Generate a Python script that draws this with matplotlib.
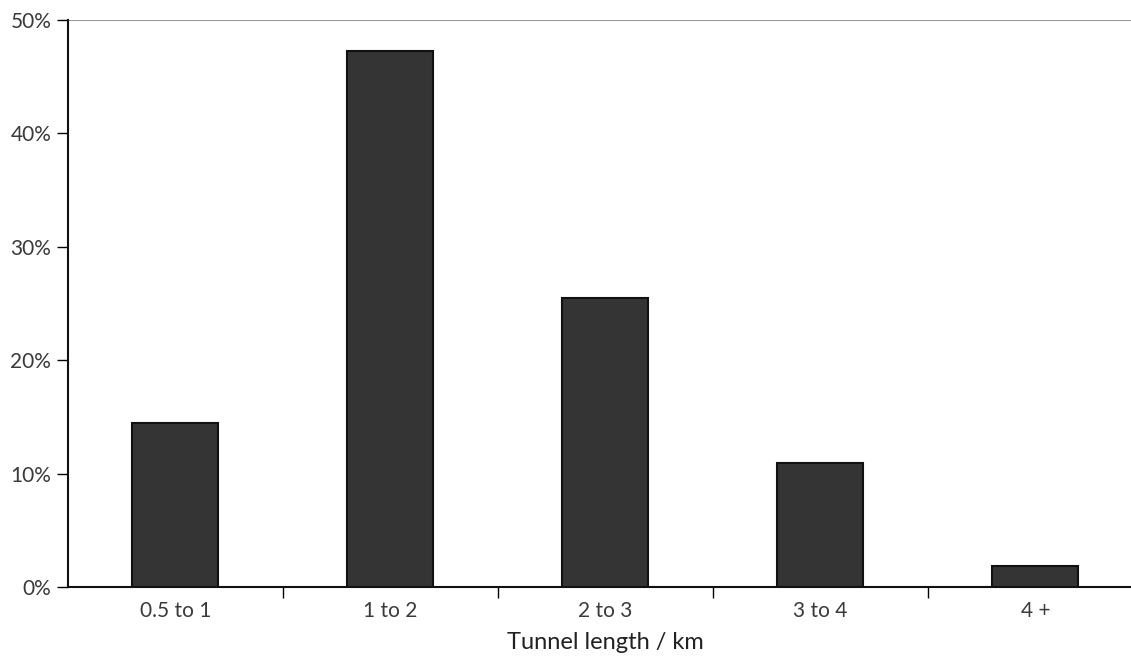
import matplotlib.pyplot as plt
from matplotlib.ticker import FuncFormatter

categories = ["0.5 to 1", "1 to 2", "2 to 3", "3 to 4", "4 +"]
shares = [14.5, 47.3, 25.5, 10.9, 1.85]
y_ticks = [0, 10, 20, 30, 40, 50]

plt.rcParams["font.family"] = ["Lato", "DejaVu Sans"]

fig = plt.figure(figsize=(11.31, 6.57), dpi=100)
ax = fig.add_axes([0.0601, 0.1065, 0.9505, 0.8631])

x = list(range(len(categories)))
ax.bar(x, shares, width=0.4, color="#333433", edgecolor="#111111", linewidth=1.5, zorder=3)

ax.set_xlim(-0.5, len(categories) - 0.5)
ax.set_ylim(0, 50)
ax.axhline(50, color="#999999", linewidth=1.5, zorder=2)

ax.set_yticks(y_ticks)
ax.yaxis.set_major_formatter(FuncFormatter(lambda v, p: f"{v:.0f}%"))
ax.tick_params(axis="y", length=8, width=1, direction="out", labelsize=15,
               labelcolor="#3a3a3a", pad=4)

# category labels in the middle, ticks on the boundaries
ax.set_xticks([i + 0.5 for i in x[:-1]])
ax.set_xticklabels([])
ax.set_xticks(x, minor=True)
ax.set_xticklabels(categories, minor=True)
ax.tick_params(axis="x", which="major", length=8, width=1, direction="out")
ax.tick_params(axis="x", which="minor", length=0, labelsize=15, labelcolor="#3a3a3a", pad=10)

ax.set_xlabel("Tunnel length / km", fontsize=17, color="#222222", labelpad=8)

for side in ["top", "right"]:
    ax.spines[side].set_visible(False)
ax.spines["left"].set_linewidth(1.5)
ax.spines["bottom"].set_linewidth(1.5)
ax.spines["left"].set_color("#111111")
ax.spines["bottom"].set_color("#111111")

fig.savefig("out.png", dpi=100)
